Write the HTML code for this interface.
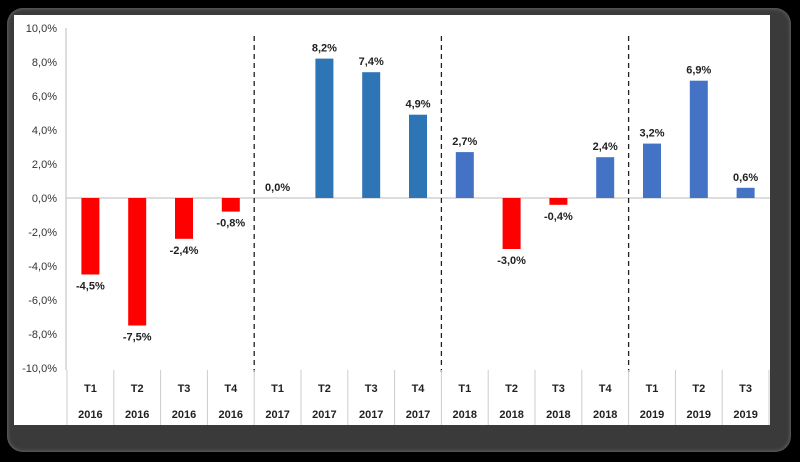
<!DOCTYPE html>
<html><head><meta charset="utf-8"><style>
html,body{margin:0;padding:0;background:#000;width:800px;height:462px;overflow:hidden}
#frame{position:absolute;left:7px;top:8px;width:784px;height:444px;background:#3a3a3a;border-radius:16px;box-shadow:inset 0 0 4px #777}
#panel{position:absolute;left:14px;top:15px;width:756px;height:410px;background:#fff}
svg{position:absolute;left:0;top:0}
text{font-family:"Liberation Sans",sans-serif}
</style></head><body>
<div id="frame"></div>
<div id="panel"></div>
<svg id="chart" width="800" height="462"></svg>
<script>
const quarters=["T1","T2","T3","T4","T1","T2","T3","T4","T1","T2","T3","T4","T1","T2","T3"];
const years=["2016","2016","2016","2016","2017","2017","2017","2017","2018","2018","2018","2018","2019","2019","2019"];
const values=[-4.5,-7.5,-2.4,-0.8,0.0,8.2,7.4,4.9,2.7,-3.0,-0.4,2.4,3.2,6.9,0.6];
const yTicks=[10,8,6,4,2,0,-2,-4,-6,-8,-10];
const ns="http://www.w3.org/2000/svg";
const svg=document.getElementById('chart');
const x0=67,step=46.8,bw=18;
const y=v=>198-v*17;
const xc=i=>x0+step*(i+0.5);
function mk(t,a,txt){const e=document.createElementNS(ns,t);for(const k in a)e.setAttribute(k,a[k]);if(txt!==undefined)e.textContent=txt;svg.appendChild(e);return e;}
const ax=mk('line',{x1:66,y1:28,x2:66,y2:370,stroke:'#bbb','stroke-width':1});


const zl=mk('line',{x1:66,y1:y(0),x2:770,y2:y(0),stroke:'#bbb','stroke-width':1});


yTicks.forEach(t=>{
  const e=mk('text',{x:57,y:y(t)+4,'text-anchor':'end','font-size':11,fill:'#333'},t.toFixed(1).replace('.',',')+'%');
  
  
});
[4,8,12].forEach(k=>{
  const e=mk('line',{x1:x0+step*k,y1:36,x2:x0+step*k,y2:372,stroke:'#222','stroke-width':1.3,'stroke-dasharray':'5,4'});
  
  
});
for(let k=0;k<=15;k++){
  const e=mk('line',{x1:x0+step*k,y1:370,x2:x0+step*k,y2:425,stroke:'#ccc','stroke-width':1});
  
  
}
values.forEach((v,i)=>{
  const col=v<0?'#ff0000':(years[i]==='2017'?'#2e75b6':'#4472c4');
  const top=Math.min(y(v),y(0)),h=Math.abs(y(v)-y(0));
  const b=mk('rect',{x:xc(i)-bw/2,y:top,width:bw,height:h,fill:col});
  
  
  const ly=v<0?y(v)+15:y(v)-7;
  const l=mk('text',{x:xc(i),y:ly,'text-anchor':'middle','font-size':11,'font-weight':'bold',fill:'#222'},v.toFixed(1).replace('.',',')+'%');
  
  
  const q=mk('text',{x:xc(i),y:392,'text-anchor':'middle','font-size':11,'font-weight':'bold',fill:'#222'},quarters[i]);
  
  
  const yr=mk('text',{x:xc(i),y:418,'text-anchor':'middle','font-size':11,'font-weight':'bold',fill:'#222'},years[i]);
  
  
});
</script>
</body></html>
